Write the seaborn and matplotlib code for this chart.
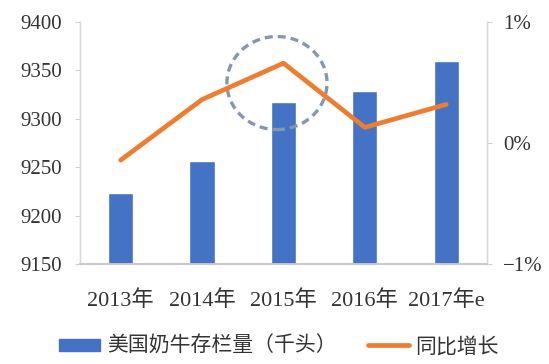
import matplotlib
matplotlib.use("Agg")
import matplotlib.pyplot as plt
import seaborn as sns
import numpy as np
import pandas as pd
from matplotlib.patches import Ellipse, Patch
from matplotlib.lines import Line2D
from matplotlib.ticker import FuncFormatter

years = ["2013年", "2014年", "2015年", "2016年", "2017年e"]
stock = [9224, 9257, 9317, 9329, 9360]
growth = [-0.14, 0.36, 0.66, 0.13, 0.32]
left_ticks = [9150, 9200, 9250, 9300, 9350, 9400]
right_ticks = [-1, 0, 1]
bar_label = "美国奶牛存栏量（千头）"
line_label = "同比增长"

sns.set_theme(style="white")
plt.rcParams['font.family'] = ['Liberation Serif', 'Noto Sans CJK SC', 'DejaVu Sans']

bar_color = "#4472C4"
line_color = "#ED7D31"
text_color = "#333333"

fig = plt.figure(figsize=(5.49, 3.64), dpi=100)
ax = fig.add_axes([0.1457, 0.2739, 0.7413, 0.6657])

df = pd.DataFrame({"year": years, "stock": stock, "growth": growth})
sns.barplot(data=df, x="year", y="stock", color=bar_color, width=0.31,
            saturation=1, ax=ax)
ax.set_ylim(9150, 9400)
ax.set_yticks(left_ticks)
ax.set_xlim(-0.5, 4.5)
ax.set_xlabel("")
ax.set_ylabel("")
ax.tick_params(axis='y', labelsize=15, labelcolor=text_color, length=3.6, width=0.8,
               left=True, pad=9.4, color="#d0d0d0")
ax.tick_params(axis='x', labelsize=16, labelcolor=text_color, length=0, pad=19)

ax2 = ax.twinx()
sns.lineplot(x=np.arange(len(years)), y=growth, color=line_color, linewidth=3.4,
             ax=ax2, solid_capstyle='round', solid_joinstyle='round')
ax2.set_ylim(-1, 1)
ax2.set_yticks(right_ticks)
ax2.yaxis.set_major_formatter(FuncFormatter(lambda v, p: ("−" if v < 0 else "") + f"{abs(int(round(v)))}%"))
ax2.tick_params(axis='y', labelsize=15, labelcolor=text_color, length=3.6, width=0.8,
                right=True, pad=8, color="#d0d0d0")
ax2.set_xlim(-0.5, 4.5)

for a in (ax, ax2):
    a.spines['top'].set_visible(False)
    a.spines['left'].set_color("#d9d9d9")
    a.spines['right'].set_color("#d9d9d9")
    a.spines['bottom'].set_color("#c8c8c8")
    a.spines['left'].set_linewidth(1.0)
    a.spines['right'].set_linewidth(1.0)
    a.spines['bottom'].set_linewidth(1.2)
    a.grid(False)

# dashed highlight circle around 2015
ell = Ellipse((1.92, 9337), width=1.23, height=96, fill=False,
              edgecolor="#8497B0", linestyle=(0, (2.4, 1.5)), linewidth=2.4,
              zorder=5)
ax.add_patch(ell)

handles = [Patch(facecolor=bar_color, edgecolor=bar_color),
           Line2D([0], [0], color=line_color, linewidth=3.4)]
fig.legend(handles, [bar_label, line_label], loc="center",
           bbox_to_anchor=(0.508, 0.049), ncol=2, frameon=False,
           prop={'family': ['Noto Sans CJK SC'], 'size': 15},
           handlelength=2.0, handleheight=0.55, columnspacing=1.5,
           handletextpad=0.3, labelcolor=text_color, borderpad=0, borderaxespad=0)

fig.savefig("out.png", dpi=100)
